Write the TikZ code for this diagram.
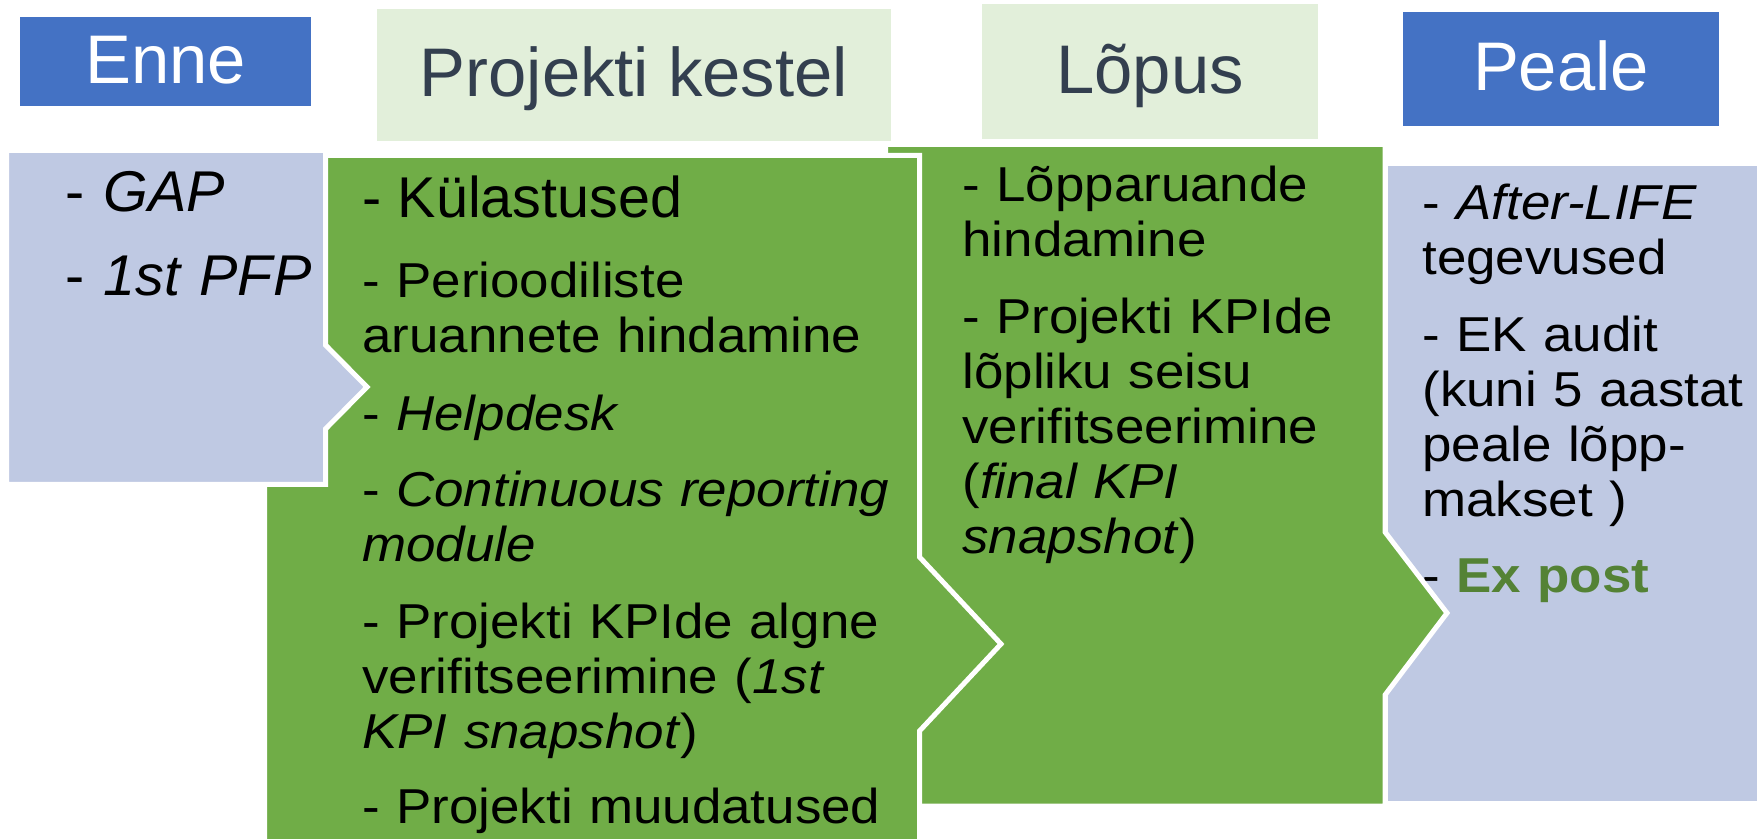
\documentclass[tikz,border=0pt]{standalone}
\usepackage{fontspec}
\setmainfont{Liberation Sans}
\newfontfamily\widefont{Liberation Sans}[FakeStretch = 1.08]
\definecolor{hdrblue}{HTML}{4472C4}
\definecolor{hdrgreen}{HTML}{E2EFDA}
\definecolor{hdrtext}{HTML}{333F4F}
\definecolor{bodygreen}{HTML}{70AD47}
\definecolor{bodyblue}{HTML}{BFC9E3}
\definecolor{expost}{HTML}{548235}
\begin{document}
\begin{tikzpicture}[x = 0.5pt, y = -0.5pt, line join = miter,
	body/.style = {draw = white, line width = 2.5pt},
	head/.style = {rectangle, inner sep = 0pt, outer sep = 0pt, text height = 24pt, text depth = 2pt, font = \fontsize{34.4pt}{40pt}\selectfont},
	bullets/.style = {anchor = base west, inner sep = 0pt, align = left, text width = #1, font = \widefont\fontsize{24.5pt}{27.5pt}\selectfont}]
	%		\draw[gray!50, step = 100] (0,0) grid (1762,839);
	\useasboundingbox (0,0) rectangle (1762,839);
	
	\node[head, fill = hdrblue, text = white, minimum width = 145.5pt, minimum height = 44.5pt] (enne) at (165.5,61.5) {Enne};
	\node[head, fill = hdrgreen, text = hdrtext, minimum width = 257pt, minimum height = 66pt] (kestel) at (634,75) {Projekti kestel};
	\node[head, fill = hdrgreen, text = hdrtext, minimum width = 168pt, minimum height = 67.5pt] (lopus) at (1150,71.5) {Lõpus};
	\node[head, fill = hdrblue, text = white, minimum width = 158pt, minimum height = 57pt] (peale) at (1561,69) {Peale};
	
	% Peale
	\draw[body, fill = bodyblue] (1385,163.5) -- (1759.5,163.5) -- (1759.5,803.5) -- (1385,803.5) -- cycle;
	\node[bullets = 180pt] (pealeList) at (1422,220) {- \textit{After-LIFE}\\ tegevused\\[10.75pt] - EK audit\\ (kuni 5 aastat\\ peale lõpp-\\ makset )\\[10.75pt] - \textcolor{expost}{\textbf{Ex post}}};
	
	% Lõpus
	\draw[body, fill = bodygreen] (885.5,144.5) -- (1385,144.5) -- (1385,532) -- (1447,613) -- (1385,695) -- (1385,806) -- (885.5,806) -- cycle;
	\node[bullets = 220pt] (lopusList) at (962,202) {- Lõpparuande\\ hindamine\\[10.75pt] - Projekti KPIde\\ lõpliku seisu\\ verifitseerimine\\ (\textit{final KPI}\\ \textit{snapshot})};
	
	% Projekti kestel
	\draw[body, fill = bodygreen] (264.5,155.5) -- (919.5,155.5) -- (919.5,557) -- (1001,644) -- (919.5,731) -- (919.5,850) -- (264.5,850) -- cycle;
	\node[bullets = 300pt] (kestelList) at (362,218) {{\normalfont\fontsize{28.75pt}{32pt}\selectfont - Külastused}\\[12.5pt] - Perioodiliste\\ aruannete hindamine\\[11.5pt] - \textit{Helpdesk}\\[10.5pt] - \textit{Continuous reporting}\\ \textit{module}\\[10.75pt] - Projekti KPIde algne\\ verifitseerimine (\textit{1st}\\ \textit{KPI snapshot})\\[10.25pt] - Projekti muudatused};
	
	% Enne
	\draw[body, fill = bodyblue] (6.5,150.5) -- (325.5,150.5) -- (325.5,345) -- (367,387) -- (325.5,429) -- (325.5,484.5) -- (6.5,484.5) -- cycle;
	\node[anchor = base west, inner sep = 0pt, align = left, text width = 140pt, font = \fontsize{28.75pt}{32pt}\selectfont] (enneList) at (65,212) {- \textit{GAP}\\[10pt] - \textit{1st PFP}};
\end{tikzpicture}
\end{document}
